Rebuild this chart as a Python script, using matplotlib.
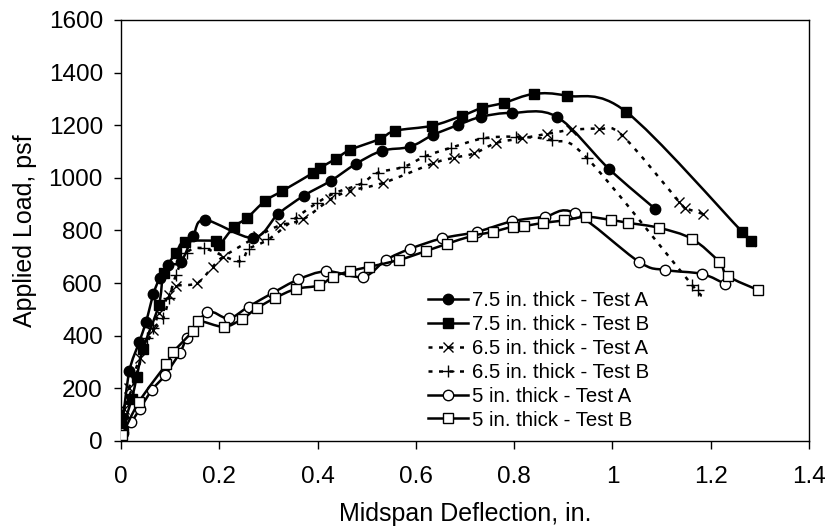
import numpy as np
import matplotlib
matplotlib.use('Agg')
import matplotlib.pyplot as plt
from matplotlib.path import Path
from matplotlib.patches import PathPatch
from matplotlib.lines import Line2D
from matplotlib.ticker import FormatStrFormatter, MultipleLocator

plt.rcParams['font.family'] = ['Liberation Sans', 'DejaVu Sans']

# 7.5 in. thick - Test A
d75a = [0.0, 0.004, 0.017, 0.037, 0.051, 0.066, 0.079, 0.096, 0.122, 0.147, 0.171, 0.269, 0.320,
        0.372, 0.427, 0.478, 0.531, 0.588, 0.635, 0.686, 0.733, 0.796, 0.887, 0.993, 1.087]
p75a = [55, 87, 266, 376, 453, 559, 620, 669, 681, 780, 840, 772, 863,
        932, 989, 1053, 1103, 1118, 1163, 1201, 1232, 1247, 1232, 1034, 882]

# 7.5 in. thick - Test B
d75b = [0.004, 0.022, 0.032, 0.045, 0.077, 0.087, 0.112, 0.130, 0.193, 0.200, 0.230, 0.256, 0.293,
        0.328, 0.391, 0.405, 0.437, 0.466, 0.527, 0.558, 0.633, 0.694, 0.735, 0.779, 0.840, 0.907,
        1.028, 1.264, 1.282]
p75b = [53, 160, 244, 350, 517, 638, 715, 757, 760, 745, 814, 847, 912,
        950, 1019, 1038, 1072, 1106, 1148, 1179, 1198, 1236, 1266, 1285, 1319, 1312,
        1251, 795, 760]

# 6.5 in. thick - Test A
d65a = [0.006, 0.016, 0.039, 0.065, 0.077, 0.098, 0.112, 0.155, 0.187, 0.208, 0.278, 0.323, 0.370,
        0.426, 0.467, 0.534, 0.635, 0.677, 0.719, 0.764, 0.816, 0.866, 0.916, 0.973, 1.019, 1.136,
        1.148, 1.184]
p65a = [122, 201, 316, 422, 486, 555, 589, 600, 663, 700, 778, 819, 842,
        918, 951, 981, 1055, 1076, 1093, 1133, 1150, 1167, 1182, 1186, 1163, 909,
        886, 863]

# 6.5 in. thick - Test B
d65b = [0.003, 0.031, 0.052, 0.066, 0.086, 0.098, 0.112, 0.134, 0.169, 0.240, 0.260, 0.300, 0.356,
        0.399, 0.436, 0.488, 0.522, 0.576, 0.619, 0.671, 0.737, 0.804, 0.878, 0.948, 1.162, 1.174]
p65b = [100, 247, 392, 430, 467, 544, 631, 716, 732, 683, 730, 766, 848,
        905, 943, 977, 1019, 1042, 1082, 1114, 1150, 1156, 1142, 1076, 593, 574]

# 5 in. thick - Test A
d5a = [0.005, 0.021, 0.038, 0.063, 0.089, 0.120, 0.135, 0.176, 0.219, 0.260, 0.309, 0.361, 0.418,
       0.493, 0.539, 0.588, 0.653, 0.724, 0.796, 0.862, 0.924, 1.054, 1.107, 1.182, 1.229]
p5a = [30, 71, 121, 194, 249, 336, 391, 489, 466, 511, 563, 614, 645,
       624, 688, 730, 770, 795, 835, 852, 866, 681, 650, 635, 597]

# 5 in. thick - Test B
d5b = [0.002, 0.037, 0.092, 0.106, 0.146, 0.157, 0.209, 0.246, 0.276, 0.313, 0.356, 0.403, 0.431,
       0.465, 0.505, 0.566, 0.621, 0.663, 0.714, 0.757, 0.797, 0.821, 0.859, 0.901, 0.946, 0.997,
       1.032, 1.095, 1.162, 1.217, 1.235, 1.296]
p5b = [21, 150, 292, 337, 418, 456, 434, 463, 504, 543, 578, 591, 624,
       645, 662, 688, 722, 749, 779, 795, 814, 817, 829, 838, 852, 840,
       829, 810, 768, 681, 627, 574]

labels = ['7.5 in. thick - Test A', '7.5 in. thick - Test B', '6.5 in. thick - Test A',
          '6.5 in. thick - Test B', '5 in. thick - Test A', '5 in. thick - Test B']


def smooth(x, y):
    # excel-like smoothed line: catmull-rom as cubic beziers
    pts = np.column_stack([x, y]).astype(float)
    verts = [pts[0]]
    codes = [Path.MOVETO]
    n = len(pts)
    for i in range(n - 1):
        p0 = pts[i - 1] if i > 0 else pts[i]
        p1 = pts[i]
        p2 = pts[i + 1]
        p3 = pts[i + 2] if i + 2 < n else pts[i + 1]
        verts += [p1 + (p2 - p0) / 6, p2 - (p3 - p1) / 6, p2]
        codes += [Path.CURVE4] * 3
    return Path(verts, codes)


fig = plt.figure(figsize=(8.31, 5.27), dpi=100)
ax = fig.add_axes([0.1456, 0.1632, 0.8279, 0.7989])

dots = (0, (1.6, 2.6))
series = [
    (d75a, p75a, dict(marker='o', ms=7.5, mfc='black', mec='black', mew=1), '-'),
    (d75b, p75b, dict(marker='s', ms=7, mfc='black', mec='black', mew=1), '-'),
    (d65a, p65a, dict(marker='x', ms=7.5, mfc='none', mec='black', mew=1), dots),
    (d65b, p65b, dict(marker='+', ms=8, mfc='none', mec='black', mew=1), dots),
    (d5a, p5a, dict(marker='o', ms=7.5, mfc='white', mec='black', mew=1), '-'),
    (d5b, p5b, dict(marker='s', ms=7, mfc='white', mec='black', mew=1), '-'),
]

handles = []
for i, (x, y, mk, ls) in enumerate(series):
    lw = 1.8
    ax.add_patch(PathPatch(smooth(x, y), facecolor='none', edgecolor='black', lw=lw,
                           linestyle=ls, zorder=2 + i, capstyle='butt'))
    ax.plot(x, y, linestyle='none', zorder=2.5 + i, **mk)
    handles.append(Line2D([], [], color='black', lw=lw, linestyle=ls, **mk))

ax.set_xlim(0, 1.4)
ax.set_ylim(0, 1600)
ax.xaxis.set_major_locator(MultipleLocator(0.2))
ax.yaxis.set_major_locator(MultipleLocator(200))
ax.xaxis.set_major_formatter(FormatStrFormatter('%g'))
ax.tick_params(direction='out', length=5, width=1, labelsize=17.5, pad=8)
ax.tick_params(axis='x', length=6, pad=12)
for s in ax.spines.values():
    s.set_linewidth(1)

ax.set_xlabel('Midspan Deflection, in.', fontsize=18, labelpad=10)
ax.set_ylabel('Applied Load, psf', fontsize=18, labelpad=8)

ax.legend(handles, labels, loc='upper left', bbox_to_anchor=(0.446, 0.356), frameon=False,
          fontsize=14.7, handlelength=1.96, handletextpad=0.2, borderpad=0, borderaxespad=0,
          labelspacing=0.24)

fig.savefig('out.png', dpi=100)
